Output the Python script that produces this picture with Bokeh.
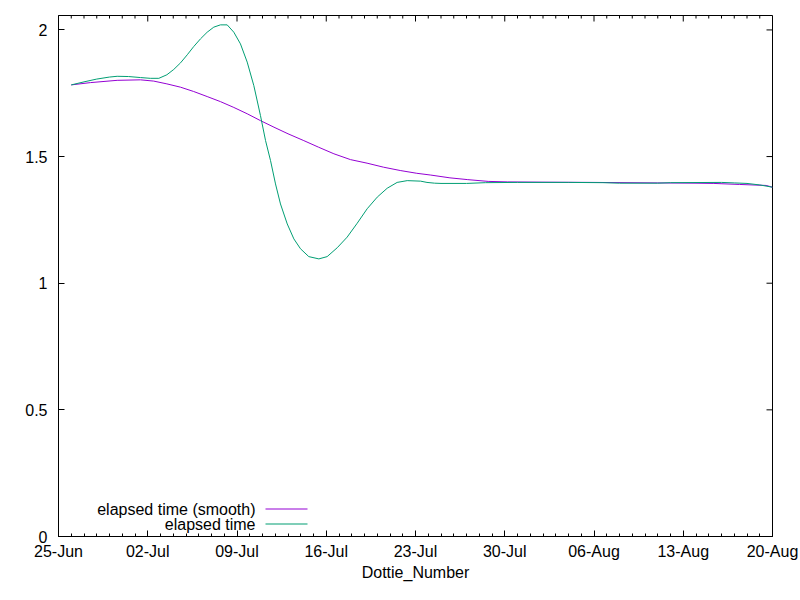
import pandas as pd
from bokeh.plotting import figure
from bokeh.models import FixedTicker, DatetimeTickFormatter, Label, BoxAnnotation, Range1d
from bokeh.embed import file_html
from bokeh.resources import INLINE

# ---------------- data ----------------
start_date = "2023-06-25"
end_date = "2023-08-20"

# days after 25-Jun, elapsed time (raw)
raw_day = [1.0, 2.0, 3.0, 4.0, 4.6, 5.5, 6.43, 7.2, 7.87, 8.5, 9.04, 9.57, 10.1, 10.6,
           11.14, 11.66, 12.18, 12.7, 13.23, 13.75, 14.27, 14.8, 15.32, 15.84, 16.24,
           16.63, 17.02, 17.41, 17.94, 18.46, 18.98, 19.63, 20.42, 21.07, 21.86, 22.64,
           23.43, 24.21, 25.0, 25.78, 26.56, 27.35, 28.4, 28.9, 29.5, 30.0, 32.0, 33.5,
           36.0, 40.0, 42.7, 44.0, 47.0, 48.0, 52.0, 53.0, 54.0, 55.0, 56.0]
raw_val = [1.783, 1.795, 1.806, 1.814, 1.817, 1.816, 1.812, 1.809, 1.809, 1.823, 1.844,
           1.870, 1.902, 1.934, 1.965, 1.991, 2.011, 2.020, 2.020, 1.991, 1.945, 1.873,
           1.780, 1.662, 1.563, 1.484, 1.392, 1.313, 1.234, 1.175, 1.136, 1.105, 1.096,
           1.105, 1.140, 1.182, 1.237, 1.294, 1.340, 1.375, 1.398, 1.405, 1.403, 1.398,
           1.395, 1.394, 1.394, 1.397, 1.398, 1.398, 1.397, 1.395, 1.395, 1.397, 1.398,
           1.396, 1.394, 1.388, 1.379]

# days after 25-Jun, elapsed time (smooth)
smooth_day = [1.0, 2.5, 4.6, 6.43, 7.47, 8.5, 9.57, 10.6, 11.66, 12.7, 13.75, 14.8, 15.84,
              16.9, 18.0, 19.24, 20.4, 21.6, 22.9, 24.2, 25.5, 26.8, 28.1, 29.2, 30.7,
              32.1, 33.7, 35.2, 38.0, 42.0, 47.0, 50.0, 51.4, 53.4, 55.5, 56.0]
smooth_val = [1.783, 1.792, 1.801, 1.803, 1.798, 1.787, 1.774, 1.757, 1.737, 1.717, 1.694,
              1.669, 1.642, 1.616, 1.590, 1.563, 1.537, 1.511, 1.488, 1.474, 1.458, 1.445,
              1.434, 1.427, 1.416, 1.409, 1.402, 1.400, 1.399, 1.398, 1.396, 1.395, 1.394,
              1.390, 1.386, 1.379]

y_ticks = [0, 0.5, 1, 1.5, 2]
y_tick_labels = ["0", "0.5", "1", "1.5", "2"]
series_names = ["elapsed time (smooth)", "elapsed time"]
series_colors = ["#9400d3", "#009e73"]
x_label = "Dottie_Number"

# ---------------- build ----------------
FONT = "Liberation Sans"
Y_MAX = 2.057
FW, FH = 714, 521
t0 = pd.Timestamp(start_date)
t1 = pd.Timestamp(end_date)
raw_x = [t0 + pd.Timedelta(days=d) for d in raw_day]
smooth_x = [t0 + pd.Timedelta(days=d) for d in smooth_day]

n_days = (t1 - t0).days
major_ms = [(t0 + pd.Timedelta(days=k)).timestamp() * 1000 for k in range(0, n_days + 1, 7)]
minor_ms = [(t0 + pd.Timedelta(days=k)).timestamp() * 1000 for k in range(0, n_days + 1)]
t0_ms, t1_ms = t0.timestamp() * 1000, t1.timestamp() * 1000

p = figure(x_axis_type="datetime", x_range=Range1d(t0, t1), y_range=Range1d(0, Y_MAX),
           frame_width=FW, frame_height=FH, output_backend="svg", toolbar_location=None,
           min_border_left=58, min_border_right=28, min_border_top=15, min_border_bottom=64,
           background_fill_color="white", border_fill_color="white")
p.xgrid.visible = False
p.ygrid.visible = False
p.outline_line_color = "black"
p.outline_line_width = 1

xt = FixedTicker(ticks=major_ms, minor_ticks=minor_ms)
fmt = DatetimeTickFormatter(days="%d-%b", months="%d-%b", hours="%d-%b", years="%d-%b")
yt = FixedTicker(ticks=y_ticks, minor_ticks=[])
overrides = {float(v): s for v, s in zip(y_ticks, y_tick_labels)}


def style(ax):
    ax.axis_line_color = "black"
    ax.major_tick_line_color = "black"
    ax.minor_tick_line_color = "black"
    ax.major_tick_in = 6
    ax.major_tick_out = 0
    ax.minor_tick_in = 3
    ax.minor_tick_out = 0
    ax.major_label_text_font = FONT
    ax.major_label_text_color = "black"
    ax.major_label_text_font_size = "16px"


xa = p.xaxis[0]
xa.ticker = xt
xa.formatter = fmt
style(xa)
xa.major_label_standoff = 6
xa.axis_label = x_label
xa.axis_label_text_font = FONT
xa.axis_label_text_font_size = "16px"
xa.axis_label_text_font_style = "normal"
xa.axis_label_text_color = "black"
xa.axis_label_standoff = 1

ya = p.yaxis[0]
ya.ticker = yt
ya.major_label_overrides = overrides
style(ya)
ya.minor_tick_in = 0
ya.major_label_standoff = 11

# mirrored ticks on the top and right edges (gnuplot border ticks)
px_y = Y_MAX / FH
px_x = (t1_ms - t0_ms) / FW
top_x = minor_ms
top_y1 = [Y_MAX - (6 if m in major_ms else 3) * px_y for m in minor_ms]
p.segment(x0=top_x, y0=[Y_MAX] * len(top_x), x1=top_x, y1=top_y1,
          line_color="black", line_width=1)
p.segment(x0=[t1_ms] * len(y_ticks), y0=y_ticks, x1=[t1_ms - 6 * px_x] * len(y_ticks),
          y1=y_ticks, line_color="black", line_width=1)

p.line(smooth_x, smooth_val, line_color=series_colors[0], line_width=1)
p.line(raw_x, raw_val, line_color=series_colors[1], line_width=1)

# gnuplot-style key (text right-aligned, sample to the right)
rows_y = [27.5, 12.5]
for name, col, yy in zip(series_names, series_colors, rows_y):
    p.add_layout(Label(x=197, y=yy, x_units="screen", y_units="screen", text=name,
                       text_align="right", text_baseline="middle", text_font=FONT,
                       text_font_size="16px", text_color="black"))
    p.add_layout(BoxAnnotation(left=207, right=249, bottom=yy - 0.5, top=yy + 0.5,
                               left_units="screen", right_units="screen",
                               bottom_units="screen", top_units="screen",
                               fill_color=col, fill_alpha=1, line_color=None))

open("out.html", "w").write(file_html(p, INLINE))
